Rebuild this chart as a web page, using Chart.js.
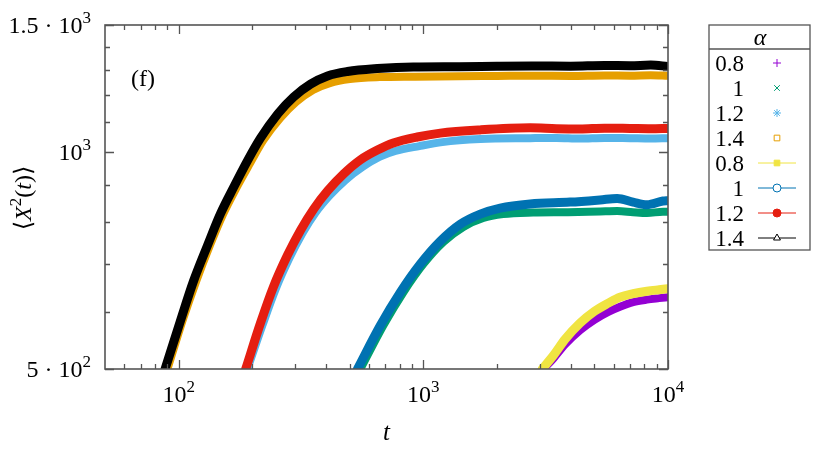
<!DOCTYPE html>
<html>
<head>
<meta charset="utf-8">
<script src="https://cdn.jsdelivr.net/npm/chart.js@4.4.0/dist/chart.umd.min.js"></script>
<style>
  body { margin: 0; background: #fff; }
  canvas { display: block; }
</style>
</head>
<body>
<canvas id="msdChart" width="825" height="450"></canvas>
<script>
// values: t and <X^2(t)> for each curve
const alphaLabels = ["0.8", "1", "1.2", "1.4", "0.8", "1", "1.2", "1.4"];

// point-only series
const tPurple = [3100, 3400, 3800, 4373, 5000, 5700, 6363, 7200, 8200, 9200, 10000];
const msdPurple = [500, 517, 541, 566, 585, 600, 610, 619, 624, 627, 629];

const tGreen = [553, 687, 829, 1000, 1207, 1456, 1758, 2121, 2812, 3900, 5275, 6200, 7194, 8204, 9540, 10000];
const msdGreen = [500, 575, 639, 699, 750, 787, 810, 820, 824, 825, 827, 828, 825, 823, 826, 826];

const tSky = [191, 220, 249, 284, 321, 362, 413, 480, 564, 661, 769, 963, 1196, 1709, 2734, 3500, 4373, 5500, 6998, 8500, 10000];
const msdSky = [500, 575, 645, 713, 772, 823, 869, 914, 953, 984, 1003, 1019, 1032, 1042, 1045, 1046, 1044, 1046, 1045, 1044, 1045];

const tOrange = [90, 104, 118, 134, 152, 172, 196, 221, 260, 302, 354, 415, 501, 664, 927, 1400, 2000, 2800, 4000, 5500, 7000, 8500, 10000];
const msdOrange = [500, 585, 662, 741, 820, 891, 965, 1036, 1114, 1173, 1219, 1246, 1262, 1270, 1272, 1274, 1275, 1276, 1275, 1277, 1276, 1278, 1276];

// lines + points series
const tYellow = [3062, 3400, 3800, 4373, 5000, 5700, 6363, 7200, 8200, 9200, 10000];
const msdYellow = [500, 522, 550, 579, 601, 617, 629, 636, 641, 644, 646];

const tBlue = [538, 668, 806, 972, 1173, 1416, 1709, 2061, 2734, 3981, 5275, 6200, 7194, 8204, 9540, 10000];
const msdBlue = [500, 575, 639, 699, 752, 794, 820, 836, 847, 852, 858, 862, 852, 845, 855, 856];

const tRed = [188, 216, 244, 279, 315, 356, 406, 472, 553, 649, 754, 945, 1173, 1709, 2734, 3500, 4373, 5500, 6998, 8500, 10000];
const msdRed = [500, 579, 650, 720, 779, 833, 883, 932, 975, 1006, 1029, 1049, 1062, 1073, 1080, 1077, 1076, 1079, 1078, 1077, 1078];

const tBlack = [88, 102, 115, 131, 148, 168, 191, 216, 254, 295, 346, 406, 490, 649, 910, 1400, 2000, 2800, 4000, 5500, 7000, 8500, 10000];
const msdBlack = [500, 585, 662, 741, 820, 894, 972, 1045, 1129, 1192, 1242, 1275, 1293, 1305, 1312, 1313, 1315, 1316, 1315, 1318, 1317, 1320, 1314];

// axis ticks; labelled ones carry [mantissa text, exponent]
const xTicks = [60, 70, 80, 90, 100, 200, 300, 400, 500, 600, 700, 800, 900,
  1000, 2000, 3000, 4000, 5000, 6000, 7000, 8000, 9000, 10000];
const xTickLabels = { 100: ["10", "2"], 1000: ["10", "3"], 10000: ["10", "4"] };
const yTicks = [500, 600, 700, 800, 900, 1000, 1100, 1200, 1300, 1400, 1500];
const yTickLabels = { 500: ["5 · 10", "2"], 1000: ["10", "3"], 1500: ["1.5 · 10", "3"] };

const serif = "'Liberation Serif', 'DejaVu Serif', serif";
Chart.defaults.font.family = serif;
Chart.defaults.color = "#000";

function toPoints(ts, ys) {
  return ts.map((t, i) => ({ x: t, y: ys[i] }));
}

function series(label, ts, ys, color, style, filled, withLine) {
  return {
    label: label,
    data: toPoints(ts, ys),
    borderColor: color,
    backgroundColor: color,
    borderWidth: withLine ? 9 : 8,
    borderJoinStyle: "round",
    borderCapStyle: "round",
    cubicInterpolationMode: "monotone",
    pointRadius: 0,
    // extra info for the legend
    markerStyle: style,
    markerFilled: filled,
    withLine: withLine,
    order: withLine ? 0 : 1,
  };
}

const datasets = [
  series(alphaLabels[0], tPurple, msdPurple, "#9400d3", "cross", false, false),
  series(alphaLabels[1], tGreen, msdGreen, "#009e73", "crossRot", false, false),
  series(alphaLabels[2], tSky, msdSky, "#56b4e9", "star", false, false),
  series(alphaLabels[3], tOrange, msdOrange, "#e69f00", "rect", false, false),
  series(alphaLabels[4], tYellow, msdYellow, "#f0e442", "rect", true, true),
  series(alphaLabels[5], tBlue, msdBlue, "#0072b2", "circle", false, true),
  series(alphaLabels[6], tRed, msdRed, "#e51e10", "circle", true, true),
  series(alphaLabels[7], tBlack, msdBlack, "#000000", "triangle", false, true),
];

// run of text pieces; align "center" / "right" around x, baseline at y
function drawPieces(ctx, pieces, x, y, align) {
  let total = 0;
  pieces.forEach(p => {
    ctx.font = p.font;
    p.w = ctx.measureText(p.text).width;
    total += p.w;
  });
  let cx = align === "right" ? x - total : x - total / 2;
  ctx.textAlign = "left";
  ctx.textBaseline = "alphabetic";
  pieces.forEach(p => {
    ctx.font = p.font;
    ctx.fillText(p.text, cx, y + (p.dy || 0));
    cx += p.w;
  });
}

const baseFont = "24px " + serif;
const supFont = "17px " + serif;

function powerLabel(parts) {
  return [
    { text: parts[0], font: baseFont },
    { text: parts[1], font: supFont, dy: -10 },
  ];
}

const framePlugin = {
  id: "frame",
  afterDatasetsDraw(chart) {
    const ctx = chart.ctx;
    const area = chart.chartArea;
    const xs = chart.scales.x;
    const ys = chart.scales.y;
    ctx.save();
    ctx.strokeStyle = "#555";
    ctx.lineWidth = 1.3;

    ctx.beginPath();
    xTicks.forEach(v => {
      const px = Math.round(xs.getPixelForValue(v)) + 0.5;
      const len = xTickLabels[v] ? 9 : 5;
      ctx.moveTo(px, area.bottom);
      ctx.lineTo(px, area.bottom - len);
      ctx.moveTo(px, area.top);
      ctx.lineTo(px, area.top + len);
    });
    yTicks.forEach(v => {
      const py = Math.round(ys.getPixelForValue(v)) + 0.5;
      const len = yTickLabels[v] ? 9 : 5;
      ctx.moveTo(area.left, py);
      ctx.lineTo(area.left + len, py);
      ctx.moveTo(area.right, py);
      ctx.lineTo(area.right - len, py);
    });
    ctx.stroke();

    ctx.lineWidth = 1.6;
    ctx.strokeRect(area.left, area.top, area.right - area.left, area.bottom - area.top);
    ctx.restore();
  },
  afterDraw(chart) {
    const ctx = chart.ctx;
    const area = chart.chartArea;
    const xs = chart.scales.x;
    const ys = chart.scales.y;
    ctx.save();
    ctx.fillStyle = "#000";

    // tick labels
    xTicks.forEach(v => {
      if (xTickLabels[v]) drawPieces(ctx, powerLabel(xTickLabels[v]), xs.getPixelForValue(v), 402, "center");
    });
    yTicks.forEach(v => {
      if (yTickLabels[v]) drawPieces(ctx, powerLabel(yTickLabels[v]), 91, ys.getPixelForValue(v) + 8, "right");
    });

    // panel tag
    drawPieces(ctx, [{ text: "(f)", font: baseFont }], area.left + 38, 86, "center");

    // axis titles
    drawPieces(ctx, [{ text: "t", font: "italic 25px " + serif }], (area.left + area.right) / 2, 440, "center");

    ctx.translate(31, 198);
    ctx.rotate(-Math.PI / 2);
    const up = "24px " + serif;
    const it = "italic 24px " + serif;
    drawPieces(ctx, [
      { text: "⟨", font: up },
      { text: "X", font: it },
      { text: "2", font: supFont, dy: -10 },
      { text: "(", font: up },
      { text: "t", font: it },
      { text: ")", font: up },
      { text: "⟩", font: up },
    ], 0, 0, "center");
    ctx.restore();

    // legend box
    const boxL = 709, boxR = 810, boxT = 25, boxB = 250, headB = 49;
    ctx.save();
    ctx.strokeStyle = "#555";
    ctx.lineWidth = 1.3;
    ctx.strokeRect(boxL, boxT, boxR - boxL, boxB - boxT);
    ctx.beginPath();
    ctx.moveTo(boxL, headB);
    ctx.lineTo(boxR, headB);
    ctx.stroke();

    ctx.fillStyle = "#000";
    drawPieces(ctx, [{ text: "α", font: "italic 24px " + serif }], 760, 45, "center");

    chart.data.datasets.forEach((ds, i) => {
      const y = 63 + i * 25;
      ctx.fillStyle = "#000";
      drawPieces(ctx, [{ text: ds.label, font: "23px " + serif }], 744, y + 8, "right");
      ctx.strokeStyle = ds.borderColor;
      ctx.lineWidth = 1;
      if (ds.withLine) {
        ctx.beginPath();
        ctx.moveTo(758, y);
        ctx.lineTo(796, y);
        ctx.stroke();
      }
      ctx.fillStyle = ds.markerFilled ? ds.borderColor : "#fff";
      Chart.helpers.drawPoint(ctx, {
        pointStyle: ds.markerStyle,
        radius: 4,
        rotation: 0,
        borderWidth: 1,
      }, 777, y);
    });
    ctx.restore();
  },
};

new Chart(document.getElementById("msdChart"), {
  type: "line",
  data: { datasets: datasets },
  options: {
    responsive: false,
    animation: false,
    layout: { padding: { left: 0, top: 25, right: 157, bottom: 0 } },
    plugins: {
      legend: { display: false },
      tooltip: { enabled: false },
    },
    scales: {
      x: {
        type: "logarithmic",
        min: 50,
        max: 10000,
        grid: { display: false, drawTicks: false },
        border: { display: false },
        afterBuildTicks: scale => { scale.ticks = xTicks.map(v => ({ value: v })); },
        afterFit: scale => { scale.height = 81; },
        ticks: { display: false, autoSkip: false },
      },
      y: {
        type: "logarithmic",
        min: 500,
        max: 1500,
        grid: { display: false, drawTicks: false },
        border: { display: false },
        afterBuildTicks: scale => { scale.ticks = yTicks.map(v => ({ value: v })); },
        afterFit: scale => { scale.width = 105; },
        ticks: { display: false, autoSkip: false },
      },
    },
  },
  plugins: [framePlugin],
});
</script>
</body>
</html>
